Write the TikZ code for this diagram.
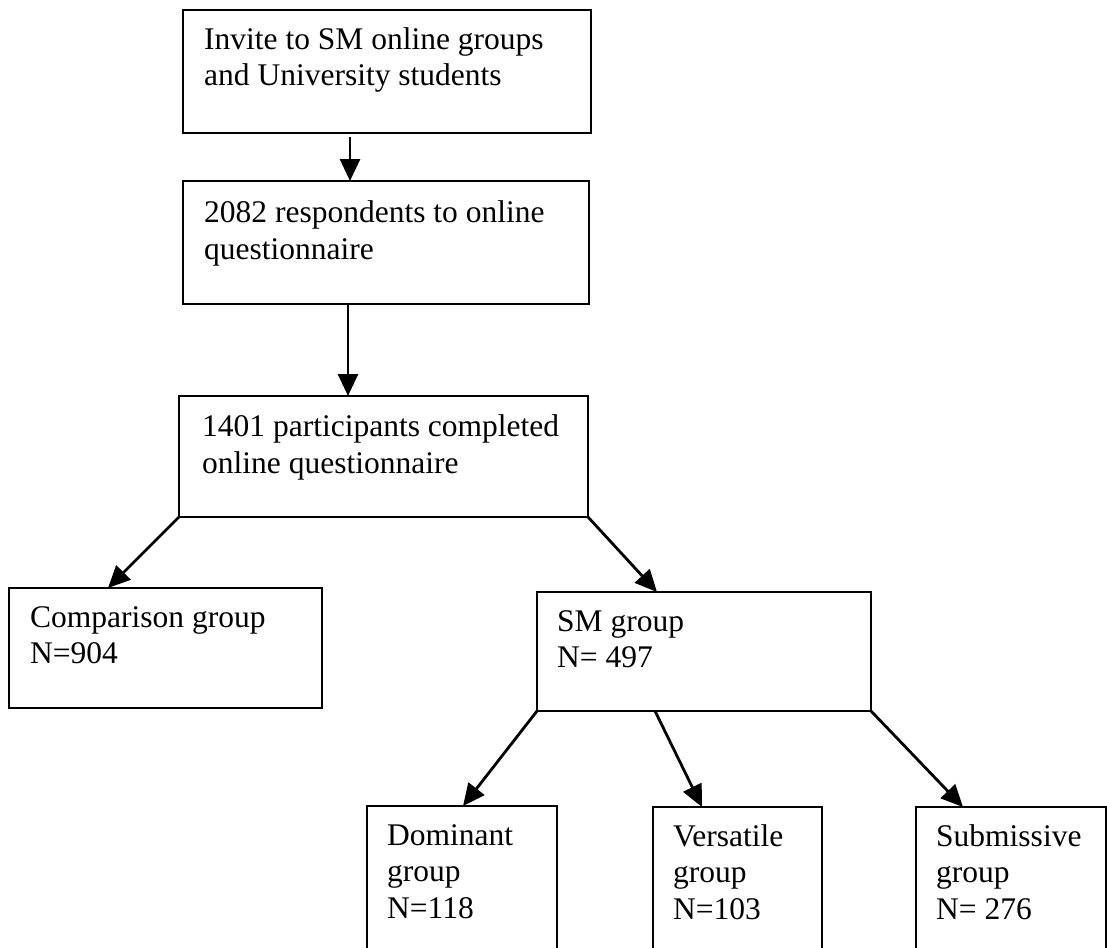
\documentclass[tikz,border=0pt]{standalone}
\usepackage{fontspec}
\setmainfont{Liberation Serif}
\usetikzlibrary{arrows.meta}
\begin{document}
\begin{tikzpicture}[x=1pt,y=-1pt,
  box/.style={draw, line width=2.8pt, inner sep=0pt, outer sep=0pt, anchor=north west},
  lbl/.style={anchor=north west, inner sep=0pt, align=left, font=\fontsize{31.5}{36.5}\selectfont},
  arr/.style={line width=2.8pt, -{Triangle[length=22pt,width=20pt]}}]
\fill[white] (0,0) rectangle (1107,947);
\useasboundingbox (0,0) rectangle (1107,947);
\clip (0,0) rectangle (1107,947);
% boxes
\node[box, minimum width=408pt, minimum height=123pt] (b1) at (183,10) {};
\node[box, minimum width=406pt, minimum height=123pt] (b2) at (183,181) {};
\node[box, minimum width=409pt, minimum height=121pt] (b3) at (179,396) {};
\node[box, minimum width=313pt, minimum height=120pt] (comp) at (9,588) {};
\node[box, minimum width=334pt, minimum height=119pt] (sm) at (537,592) {};
\node[box, minimum width=190pt, minimum height=170pt] (dom) at (367,806) {};
\node[box, minimum width=169pt, minimum height=170pt] (vers) at (653,807) {};
\node[box, minimum width=190pt, minimum height=170pt] (sub) at (916,807) {};
% texts
\node[lbl] (t1) at ([shift={(21,13.5)}]b1.north west) {\strut Invite to SM online groups\\and University students};
\node[lbl] (t2) at ([shift={(21,16)}]b2.north west) {\strut 2082 respondents to online\\questionnaire};
\node[lbl] (t3) at ([shift={(23,15)}]b3.north west) {\strut 1401 participants completed\\online questionnaire};
\node[lbl] (tc) at ([shift={(21,13.5)}]comp.north west) {\strut Comparison group\\N=904};
\node[lbl] (ts) at ([shift={(20,13.5)}]sm.north west) {\strut SM group\\N= 497};
\node[lbl] (td) at ([shift={(20,13.5)}]dom.north west) {\strut Dominant\\group\\N=118};
\node[lbl] (tv) at ([shift={(20,13.5)}]vers.north west) {\strut Versatile\\group\\N=103};
\node[lbl] (tu) at ([shift={(20,13.5)}]sub.north west) {\strut Submissive\\group\\N= 276};
% connectors
\coordinate (a1) at (350,0);
\coordinate (a2) at (348,0);
\draw[arr] ([yshift=-4pt]b1.south -| a1) -- (b2.north -| a1);
\draw[arr] (b2.south -| a2) -- (b3.north -| a2);
\draw[arr] (b3.south west) -- ([xshift=99pt]comp.north west);
\draw[arr] (b3.south east) -- ([xshift=120pt]sm.north west);
\draw[arr] (sm.south west) -- ([xshift=96pt]dom.north west);
\draw[arr] ([xshift=118pt]sm.south west) -- ([xshift=49pt]vers.north west);
\draw[arr] (sm.south east) -- ([xshift=47pt]sub.north west);
\end{tikzpicture}
\end{document}
